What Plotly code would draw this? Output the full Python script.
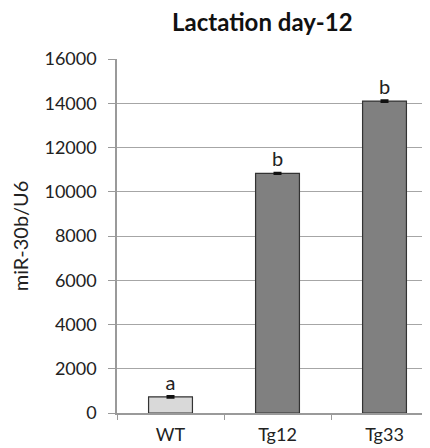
import plotly.graph_objects as go

categories = ["WT", "Tg12", "Tg33"]
values = [730, 10830, 14100]
errors = [40, 30, 40]
letters = ["a", "b", "b"]
colors = ["#d9d9d9", "#808080", "#808080"]
y_ticks = [0, 2000, 4000, 6000, 8000, 10000, 12000, 14000, 16000]
y_tick_text = [str(v) for v in y_ticks]
title_text = "Lactation day-12"

FONT = "Lato, Open Sans, sans-serif"

fig = go.Figure()
fig.add_trace(go.Bar(
    x=categories, y=values,
    width=0.41,
    marker=dict(color=colors, line=dict(color="#333333", width=1.2)),
    error_y=dict(type="data", array=errors, visible=True, color="#111111", thickness=2, width=4),
    text=letters, textposition="outside", cliponaxis=False,
    textfont=dict(family=FONT, size=20, color="#222222"),
))

fig.update_layout(
    width=430, height=448,
    margin=dict(l=109, r=0, t=51, b=43, autoexpand=False),
    paper_bgcolor="white", plot_bgcolor="white",
    showlegend=False,
    font=dict(family=FONT, size=18, color="#222222"),
    annotations=[dict(
        text="<b>" + title_text + "</b>", xref="paper", yref="paper",
        x=(254 - 109) / 321, y=1 + 37 / 354, xanchor="center", yanchor="middle",
        showarrow=False, font=dict(family=FONT, size=24, color="#111111"),
    )],
)
fig.update_xaxes(
    type="category", range=[-0.5, 2.5], automargin=False,
    showline=True, linecolor="#9a9a9a", linewidth=1.5,
    ticks="outside", tickson="boundaries", ticklen=5, tickcolor="#9a9a9a",
    showgrid=False, tickfont=dict(size=18, color="#222222"),
    ticklabelstandoff=5,
)
fig.update_yaxes(
    range=[0, 16000], tickvals=y_ticks, ticktext=y_tick_text, automargin=False,
    showline=True, linecolor="#9a9a9a", linewidth=1.5,
    ticks="outside", ticklen=7, tickcolor="#9a9a9a",
    showgrid=True, gridcolor="#a6a6a6", gridwidth=1.2,
    zeroline=False,
    tickfont=dict(size=18, color="#222222"),
    ticklabelstandoff=8,
    title=dict(text="miR-30b/U6", font=dict(size=20, color="#222222"), standoff=12),
)

fig.write_html("out.html")
